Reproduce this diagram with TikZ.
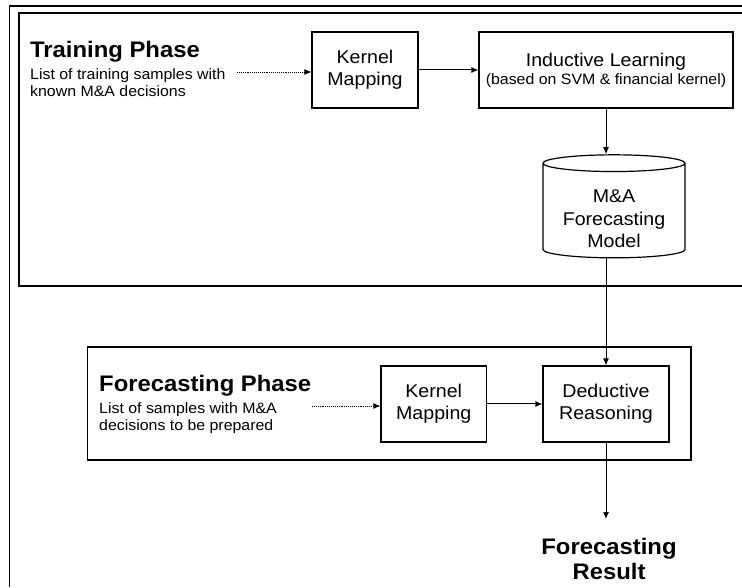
\documentclass[tikz,border=0pt]{standalone}
\usepackage{fontspec}
\setmainfont[FakeStretch=1.06]{Liberation Sans}
\usetikzlibrary{arrows.meta,positioning,shapes.geometric}
\tikzset{box/.style={draw,line width=1.2pt,align=center,inner sep=2pt,
  font=\fontsize{18.5}{22}\selectfont},
flow/.style={-{Latex[length=7pt,width=6pt]},line width=1pt},
feed/.style={-{Latex[length=7pt,width=6pt]},densely dotted,line width=0.9pt},
frame/.style={line width=1.5pt},
phase/.style={anchor=base west,inner sep=0pt,font=\bfseries\fontsize{22.5}{24}\selectfont},
note/.style={anchor=north west,align=left,inner sep=0pt,font=\fontsize{15}{17}\selectfont}}

\begin{document}
\begin{tikzpicture}[x=1pt,y=1pt]
\useasboundingbox (0,0) rectangle (742,587);
% frames: outer page, training part, forecasting part
\draw[frame] (742,581)--(9.5,581)--(9.5,0);
\draw[frame] (742,574)--(19,574)--(19,301)--(742,301);
\draw[frame] (87.5,127) rectangle (691,240);

% training phase
\node[phase] (train) at (30,529) {Training Phase};
\node[note] (trainlist) at (30,519) {List of training samples with\\known M\&A decisions};
\coordinate (src1) at (237,515);
\node[box,minimum width=106,minimum height=76] (kmap1) at (365,517) {Kernel\\Mapping};
\node[box,minimum width=254,minimum height=76] (induct) at (606,517)
  {Inductive Learning\\[-4pt]{\fontsize{15}{17}\selectfont(based on SVM \& financial kernel)}};
% strut pushes the text below the top ellipse
\node[cylinder,shape border rotate=90,draw,line width=1.2pt,aspect=0.16,
  minimum width=142,minimum height=103,align=center,inner sep=1pt,
  font=\fontsize{18.5}{22.5}\selectfont] (model) at (614,375.5)
  {\rule{0pt}{28pt}M\&A\\Forecasting\\Model};
\draw[feed] (src1)--(src1 -| kmap1.west);
\draw[flow] (kmap1)--(induct);
\draw[flow] (induct.south)--(induct.south |- model.north);

% forecasting phase
\node[phase] (fcast) at (99,195) {Forecasting Phase};
\node[note] (fcastlist) at (99,185) {List of samples with M\&A\\decisions to be prepared};
\coordinate (src2) at (312,181);
\node[box,minimum width=105.5,minimum height=76] (kmap2) at (433.75,183) {Kernel\\Mapping};
\node[box,minimum width=126,minimum height=76] (deduct) at (606,183) {Deductive\\Reasoning};
\node[align=center,anchor=north,inner sep=0pt,
  font=\bfseries\fontsize{22.5}{25}\selectfont] (result) at (609,49) {Forecasting\\Result};
\draw[feed] (src2)--(src2 -| kmap2.west);
\draw[flow] (kmap2)--(deduct);
\draw[flow] (deduct.north |- model.south)--(deduct.north);
\draw[flow] (deduct.south)--([yshift=19pt]deduct.south |- result.north);
\end{tikzpicture}
\end{document}
